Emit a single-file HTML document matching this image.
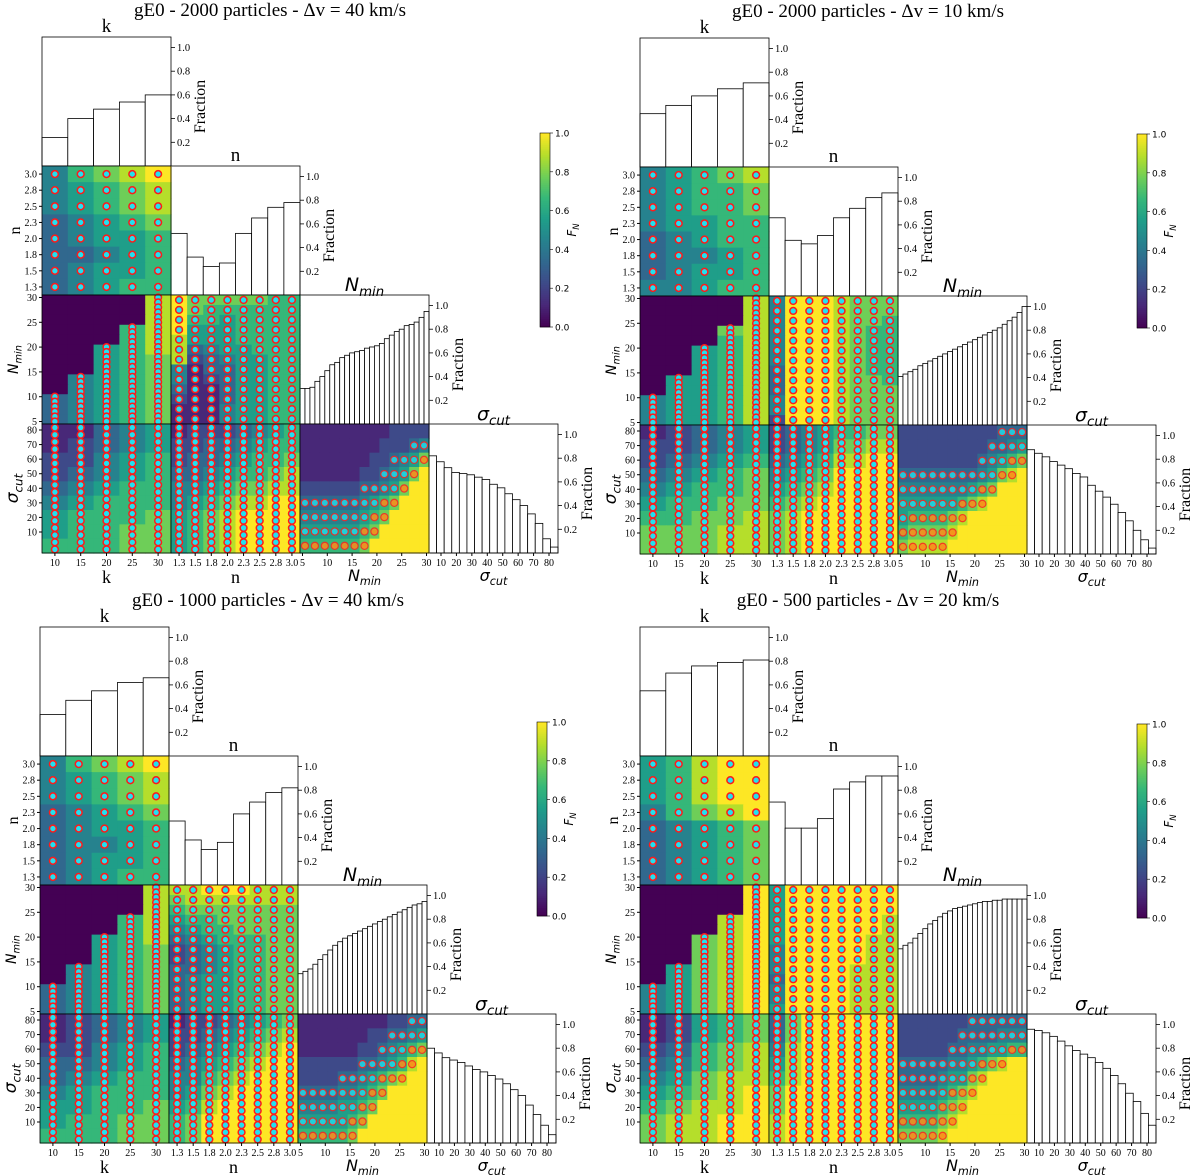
<!DOCTYPE html>
<html><head><meta charset="utf-8">
<style>
html,body{margin:0;padding:0;background:#fff;}
svg{display:block;}
text{font-family:"Liberation Serif","DejaVu Serif",serif;}
</style></head>
<body>
<svg id="fig" width="1200" height="1176" viewBox="0 0 1200 1176" xmlns="http://www.w3.org/2000/svg"></svg>
<script>
// ---- data ----
const panelTitles = ["gE0 - 2000 particles - \u0394v = 40 km/s","gE0 - 2000 particles - \u0394v = 10 km/s","gE0 - 1000 particles - \u0394v = 40 km/s","gE0 - 500 particles - \u0394v = 20 km/s"];
const kCats = [10,15,20,25,30];
const nCats = ["1.3","1.5","1.8","2.0","2.3","2.5","2.8","3.0"];
const nminTicks = [5,10,15,20,25,30];
const sigTicks = [10,20,30,40,50,60,70,80];
const fracTicks = [0.2,0.4,0.6,0.8,1.0];
const cbTicks = [0.0,0.2,0.4,0.6,0.8,1.0];
const kHist = [
 [0.24,0.40,0.48,0.54,0.60],
 [0.45,0.52,0.60,0.66,0.71],
 [0.35,0.47,0.55,0.62,0.66],
 [0.55,0.70,0.76,0.79,0.81]];
const nHist = [
 [0.52,0.32,0.24,0.27,0.52,0.65,0.74,0.78],
 [0.66,0.47,0.44,0.51,0.66,0.74,0.83,0.87],
 [0.54,0.38,0.30,0.36,0.60,0.70,0.78,0.82],
 [0.70,0.48,0.48,0.56,0.81,0.87,0.92,0.92]];
const nminHist = [
 [0.30,0.30,0.31,0.36,0.40,0.45,0.50,0.52,0.56,0.58,0.60,0.61,0.62,0.64,0.65,0.66,0.68,0.72,0.75,0.78,0.80,0.83,0.84,0.86,0.90,0.95],
 [0.41,0.43,0.45,0.47,0.50,0.52,0.54,0.56,0.58,0.60,0.62,0.64,0.66,0.68,0.70,0.72,0.74,0.76,0.78,0.80,0.82,0.85,0.88,0.91,0.95,1.00],
 [0.34,0.36,0.38,0.42,0.46,0.50,0.54,0.58,0.61,0.64,0.66,0.68,0.70,0.72,0.74,0.76,0.78,0.80,0.82,0.84,0.86,0.88,0.90,0.92,0.93,0.95],
 [0.55,0.58,0.60,0.64,0.68,0.72,0.76,0.79,0.82,0.85,0.87,0.89,0.90,0.91,0.92,0.93,0.94,0.95,0.95,0.96,0.96,0.97,0.97,0.97,0.97,0.97]];
const sigHist = [
 [0.82,0.77,0.72,0.68,0.67,0.66,0.64,0.62,0.58,0.55,0.50,0.45,0.40,0.33,0.25,0.12,0.05],
 [0.88,0.85,0.82,0.78,0.75,0.72,0.68,0.65,0.58,0.53,0.48,0.42,0.35,0.28,0.20,0.12,0.05],
 [0.80,0.76,0.72,0.70,0.68,0.65,0.62,0.60,0.57,0.54,0.50,0.45,0.40,0.32,0.24,0.15,0.07],
 [0.96,0.95,0.93,0.90,0.86,0.82,0.78,0.75,0.72,0.68,0.63,0.57,0.50,0.42,0.35,0.25,0.15]];
// heatmaps: digit strings 0-9 -> F_N = d/9, rows top->bottom
const mapKN = [
 ["46789","45678","45678","34567","34556","33456","34556","34566"],
 ["45678","45667","45667","45566","34566","34456","34556","44566"],
 ["46789","45678","45678","34567","34556","34456","34556","34566"],
 ["56899","56899","56899","46789","34567","34567","34567","34567"]];
const mapKNmin = [
 ["00008","00008","00008","00068","00068","00568","00567","00567","04567","04567","34567","34567","34567"],
 ["00008","00008","00008","00078","00068","00568","00568","00568","05568","05568","45568","45568","45568"],
 ["00008","00008","00008","00068","00068","00568","00567","00567","04567","04567","34567","34567","34567"],
 ["00009","00009","00009","00089","00089","00789","00789","00789","05789","05789","45789","45789","45789"]];
const mapNNmin = [
 ["97777766","97666666","96656666","95556666","85556666","83455666","82345566","41335566","41235566","31135566","21135566","11145566","11145566"],
 ["49998777","49998777","49998776","49998766","49998766","49998766","49998766","39998766","39998776","39998777","49998777","49998777","29998777"],
 ["88999888","78888888","67777777","56677777","45667777","34566677","23456677","23456677","33456677","34556677","34556677","34556677","34556677"],
 ["59999999","59999999","59999999","59999998","59999998","59999988","49999988","49999988","49999888","39999888","49999888","49999888","59999888"]];
const mapKSig = [
 ["11345","12345","22456","23456","34566","45666","56667","56677","66677"],
 ["12345","22345","23456","34567","45667","56677","66778","77788","77788"],
 ["12345","12345","22456","33456","34566","45666","55667","56677","66677"],
 ["12567","12567","23678","34678","45788","56789","67889","78899","78899"]];
const mapNSig = [
 ["12223456","22334566","23345667","33456678","44567788","45678899","56789999","56789999","56789999"],
 ["23456677","23457788","34568899","45679999","56789999","67899999","78999999","78999999","78999999"],
 ["12234567","22345678","23456789","34567899","44678999","45789999","56899999","67999999","67999999"],
 ["37999999","37999999","48999999","58999999","68999999","79999999","79999999","89999999","89999999"]];
const mapNminSig = [
 ["1111111112222","1111111122234","1111111223457","1111112234579","2222223345799","3333334567999","4444445679999","5555556799999","6666667999999"],
 ["2222222222333","2222222223345","2222222234567","3333333345789","4444444567999","5555556789999","5666678999999","6777789999999","7888899999999"],
 ["1111111112233","1111111223345","1111112234567","2222223345689","2222334567899","3333445679999","4444556799999","5555567999999","6666679999999"],
 ["2222222333333","2222223333444","2222233445566","3333344567899","3333455789999","4444567899999","5555678999999","6666789999999","7777899999999"]];

// ---- drawing ----
const NS="http://www.w3.org/2000/svg";
const svg=document.getElementById('fig');
const C=129;
const panelOrigins=[[42,37],[640,38],[40,627],[640,627]];
const cbOrigins=[[540,133],[1137,134],[537,722],[1137,724]];
function el(tag,attrs,parent,txt){const e=document.createElementNS(NS,tag);for(const k in attrs)e.setAttribute(k,attrs[k]);if(txt!==undefined)e.textContent=txt;(parent||svg).appendChild(e);return e;}
const VIR=[[68,1,84],[72,40,120],[62,74,137],[49,104,142],[38,130,142],[31,158,137],[53,183,121],[110,206,88],[181,222,43],[253,231,37]];
function viridis(t){t=Math.max(0,Math.min(1,t));const p=t*9,i=Math.min(8,Math.floor(p)),f=p-i;const a=VIR[i],b=VIR[i+1];return `rgb(${Math.round(a[0]+(b[0]-a[0])*f)},${Math.round(a[1]+(b[1]-a[1])*f)},${Math.round(a[2]+(b[2]-a[2])*f)})`;}
function yFrac(top,f){return top+C-f*118.5;}
function xBand(left,n,i){return left+(i+0.5)*C/n;}
function yNmin(top,v){return top+(30-v+0.5)*C/26;}
function xNmin(left,v){return left+(v-5+0.5)*C/26;}
function ySig(top,v){return top+6+(80-v)/70*102;}
function xSig(left,v){return left+12+(v-10)/70*108;}

function heat(g,x0,y0,rows,name,dotMode,perCell){
  const grp=el('g',{},g);
  
  
  const R=rows.length,Q=rows[0].length,w=C/Q,h=C/R;
  rows.forEach((row,r)=>{for(let q=0;q<Q;q++){const v=+row[q]/9;
    const c=el('rect',{x:x0+q*w,y:y0+r*h,width:w+0.6,height:h+0.6,fill:viridis(v)},grp);
    
    }});
  rows.forEach((row,r)=>{for(let q=0;q<Q;q++){const v=+row[q];
    if(dotMode==='grid'&&v>0){for(let s=0;s<perCell;s++){const d=el('circle',{cx:x0+(q+0.5)*w,cy:y0+(r+(s+0.5)/perCell)*h,r:3.4,fill:'#22e0f0',stroke:'#ff1a1a','stroke-width':1.5},grp);
        
        }}
    if(dotMode==='band'&&v>=3&&v<=8){const d=el('circle',{cx:x0+(q+0.5)*w,cy:y0+(r+0.5)*h,r:3.6,fill:v>5?'#ff8a1a':'#22d8e8',stroke:'#ff2020','stroke-width':1.2,opacity:0.85},grp);
        
        }
  }});
  el('rect',{x:x0,y:y0,width:C,height:C,fill:'none',stroke:'#000','stroke-width':0.8},grp);
}
function hist(g,x0,y0,vals,name){
  const grp=el('g',{},g);
  
  
  const n=vals.length,w=C/n;
  vals.forEach((f,i)=>{const y=yFrac(y0,f);const b=el('rect',{x:x0+i*w,y:y,width:w,height:y0+C-y,fill:'#fff',stroke:'#000','stroke-width':0.8},grp);
    
    });
  el('rect',{x:x0,y:y0,width:C,height:C,fill:'none',stroke:'#000','stroke-width':0.8},grp);
  fracTicks.forEach(t=>{const y=yFrac(y0,t);el('line',{x1:x0+C,x2:x0+C+4,y1:y,y2:y,stroke:'#000','stroke-width':0.8},grp);
    el('text',{x:x0+C+6,y:y+3.5,'font-size':10.5},grp,t.toFixed(1));});
  const fl=el('text',{x:x0+C+34,y:y0+C/2+5,'font-size':16,'text-anchor':'middle',transform:`rotate(-90 ${x0+C+34} ${y0+C/2+5})`},grp,'Fraction');
  
  
}
function mathLabel(g,x,y,base,sub,size,rot,name){
  const t=el('text',{x:x,y:y,'font-size':size,'text-anchor':'middle','font-style':'italic',transform:rot?`rotate(-90 ${x} ${y})`:''},g);
  
  
  t.style.fontFamily='"DejaVu Sans","Liberation Sans",sans-serif';
  el('tspan',{},t,base);el('tspan',{'font-size':size*0.7,dy:size*0.25},t,sub);
  return t;
}
function plainLabel(g,x,y,txt,size,rot,name){
  const t=el('text',{x:x,y:y,'font-size':size,'text-anchor':'middle',transform:rot?`rotate(-90 ${x} ${y})`:''},g,txt);
  
  
  return t;
}
panelOrigins.forEach(([ox,oy],p)=>{
  const g=el('g',{});
  
  
  plainLabel(g,ox+228,oy-21,panelTitles[p],19,false,'panel-title');
  const X=i=>ox+i*C,Y=j=>oy+j*C;
  hist(g,X(0),Y(0),kHist[p],'k-histogram');
  hist(g,X(1),Y(1),nHist[p],'n-histogram');
  hist(g,X(2),Y(2),nminHist[p],'nmin-histogram');
  hist(g,X(3),Y(3),sigHist[p],'sigma-cut-histogram');
  heat(g,X(0),Y(1),mapKN[p],'heatmap-k-n','grid',1);
  heat(g,X(0),Y(2),mapKNmin[p],'heatmap-k-nmin','grid',2);
  heat(g,X(1),Y(2),mapNNmin[p],'heatmap-n-nmin','grid',1);
  heat(g,X(0),Y(3),mapKSig[p],'heatmap-k-sigma','grid',2);
  heat(g,X(1),Y(3),mapNSig[p],'heatmap-n-sigma','grid',2);
  heat(g,X(2),Y(3),mapNminSig[p],'heatmap-nmin-sigma','band',1);
  plainLabel(g,X(0)+C/2,Y(0)-5,'k',19,false,'k-hist-title');
  plainLabel(g,X(1)+C/2,Y(1)-5,'n',19,false,'n-hist-title');
  mathLabel(g,X(2)+C/2,Y(2)-4,'N','min',19,false,'nmin-hist-title');
  mathLabel(g,X(3)+C/2,Y(3)-4,'\u03c3','cut',19,false,'sigma-hist-title');
  nCats.slice().reverse().forEach((c,i)=>{const y=Y(1)+(i+0.5)*C/8;el('line',{x1:X(0)-3,x2:X(0),y1:y,y2:y,stroke:'#000'},g);el('text',{x:X(0)-5,y:y+3.5,'font-size':10,'text-anchor':'end'},g,c);});
  nminTicks.forEach(v=>{const y=yNmin(Y(2),v);el('line',{x1:X(0)-3,x2:X(0),y1:y,y2:y,stroke:'#000'},g);el('text',{x:X(0)-5,y:y+3.5,'font-size':10,'text-anchor':'end'},g,v);});
  sigTicks.forEach(v=>{const y=ySig(Y(3),v);el('line',{x1:X(0)-3,x2:X(0),y1:y,y2:y,stroke:'#000'},g);el('text',{x:X(0)-5,y:y+3.5,'font-size':10,'text-anchor':'end'},g,v);});
  plainLabel(g,X(0)-22,Y(1)+C/2,'n',16,true,'n-y-axis-title');
  mathLabel(g,X(0)-24,Y(2)+C/2,'N','min',14,true,'nmin-y-axis-title');
  mathLabel(g,X(0)-24,Y(3)+C/2,'\u03c3','cut',17,true,'sigma-y-axis-title');
  const by=Y(4);
  kCats.forEach((c,i)=>{const x=xBand(X(0),5,i);el('line',{x1:x,x2:x,y1:by,y2:by+3,stroke:'#000'},g);el('text',{x:x,y:by+13,'font-size':10,'text-anchor':'middle'},g,c);});
  nCats.forEach((c,i)=>{const x=xBand(X(1),8,i);el('line',{x1:x,x2:x,y1:by,y2:by+3,stroke:'#000'},g);el('text',{x:x,y:by+13,'font-size':10,'text-anchor':'middle'},g,c);});
  nminTicks.forEach(v=>{const x=xNmin(X(2),v);el('line',{x1:x,x2:x,y1:by,y2:by+3,stroke:'#000'},g);el('text',{x:x,y:by+13,'font-size':10,'text-anchor':'middle'},g,v);});
  sigTicks.forEach(v=>{const x=xSig(X(3),v);el('line',{x1:x,x2:x,y1:by,y2:by+3,stroke:'#000'},g);el('text',{x:x,y:by+13,'font-size':10,'text-anchor':'middle'},g,v);});
  plainLabel(g,X(0)+C/2,by+30,'k',18,false,'k-x-axis-title');
  plainLabel(g,X(1)+C/2,by+30,'n',18,false,'n-x-axis-title');
  mathLabel(g,X(2)+C/2,by+28,'N','min',16,false,'nmin-x-axis-title');
  mathLabel(g,X(3)+C/2,by+28,'\u03c3','cut',16,false,'sigma-x-axis-title');
  const [cx,cy]=cbOrigins[p];
  const cb=el('g',{},g);
  
  
  for(let i=0;i<97;i++){el('rect',{x:cx,y:cy+194-(i+1)*2,width:10,height:2.3,fill:viridis(i/96)},cb);}
  el('rect',{x:cx,y:cy,width:10,height:194,fill:'none',stroke:'#000','stroke-width':0.6},cb);
  cbTicks.forEach(t=>{const y=cy+194-t*194;el('line',{x1:cx+10,x2:cx+13,y1:y,y2:y,stroke:'#000','stroke-width':0.6},cb);
    const tx=el('text',{x:cx+15,y:y+3.5,'font-size':9},cb,t.toFixed(1));tx.style.fontFamily='"DejaVu Sans",sans-serif';});
  mathLabel(cb,cx+36,cy+97,'F','N',12,true,'colorbar-title');
});
</script>
</body></html>
